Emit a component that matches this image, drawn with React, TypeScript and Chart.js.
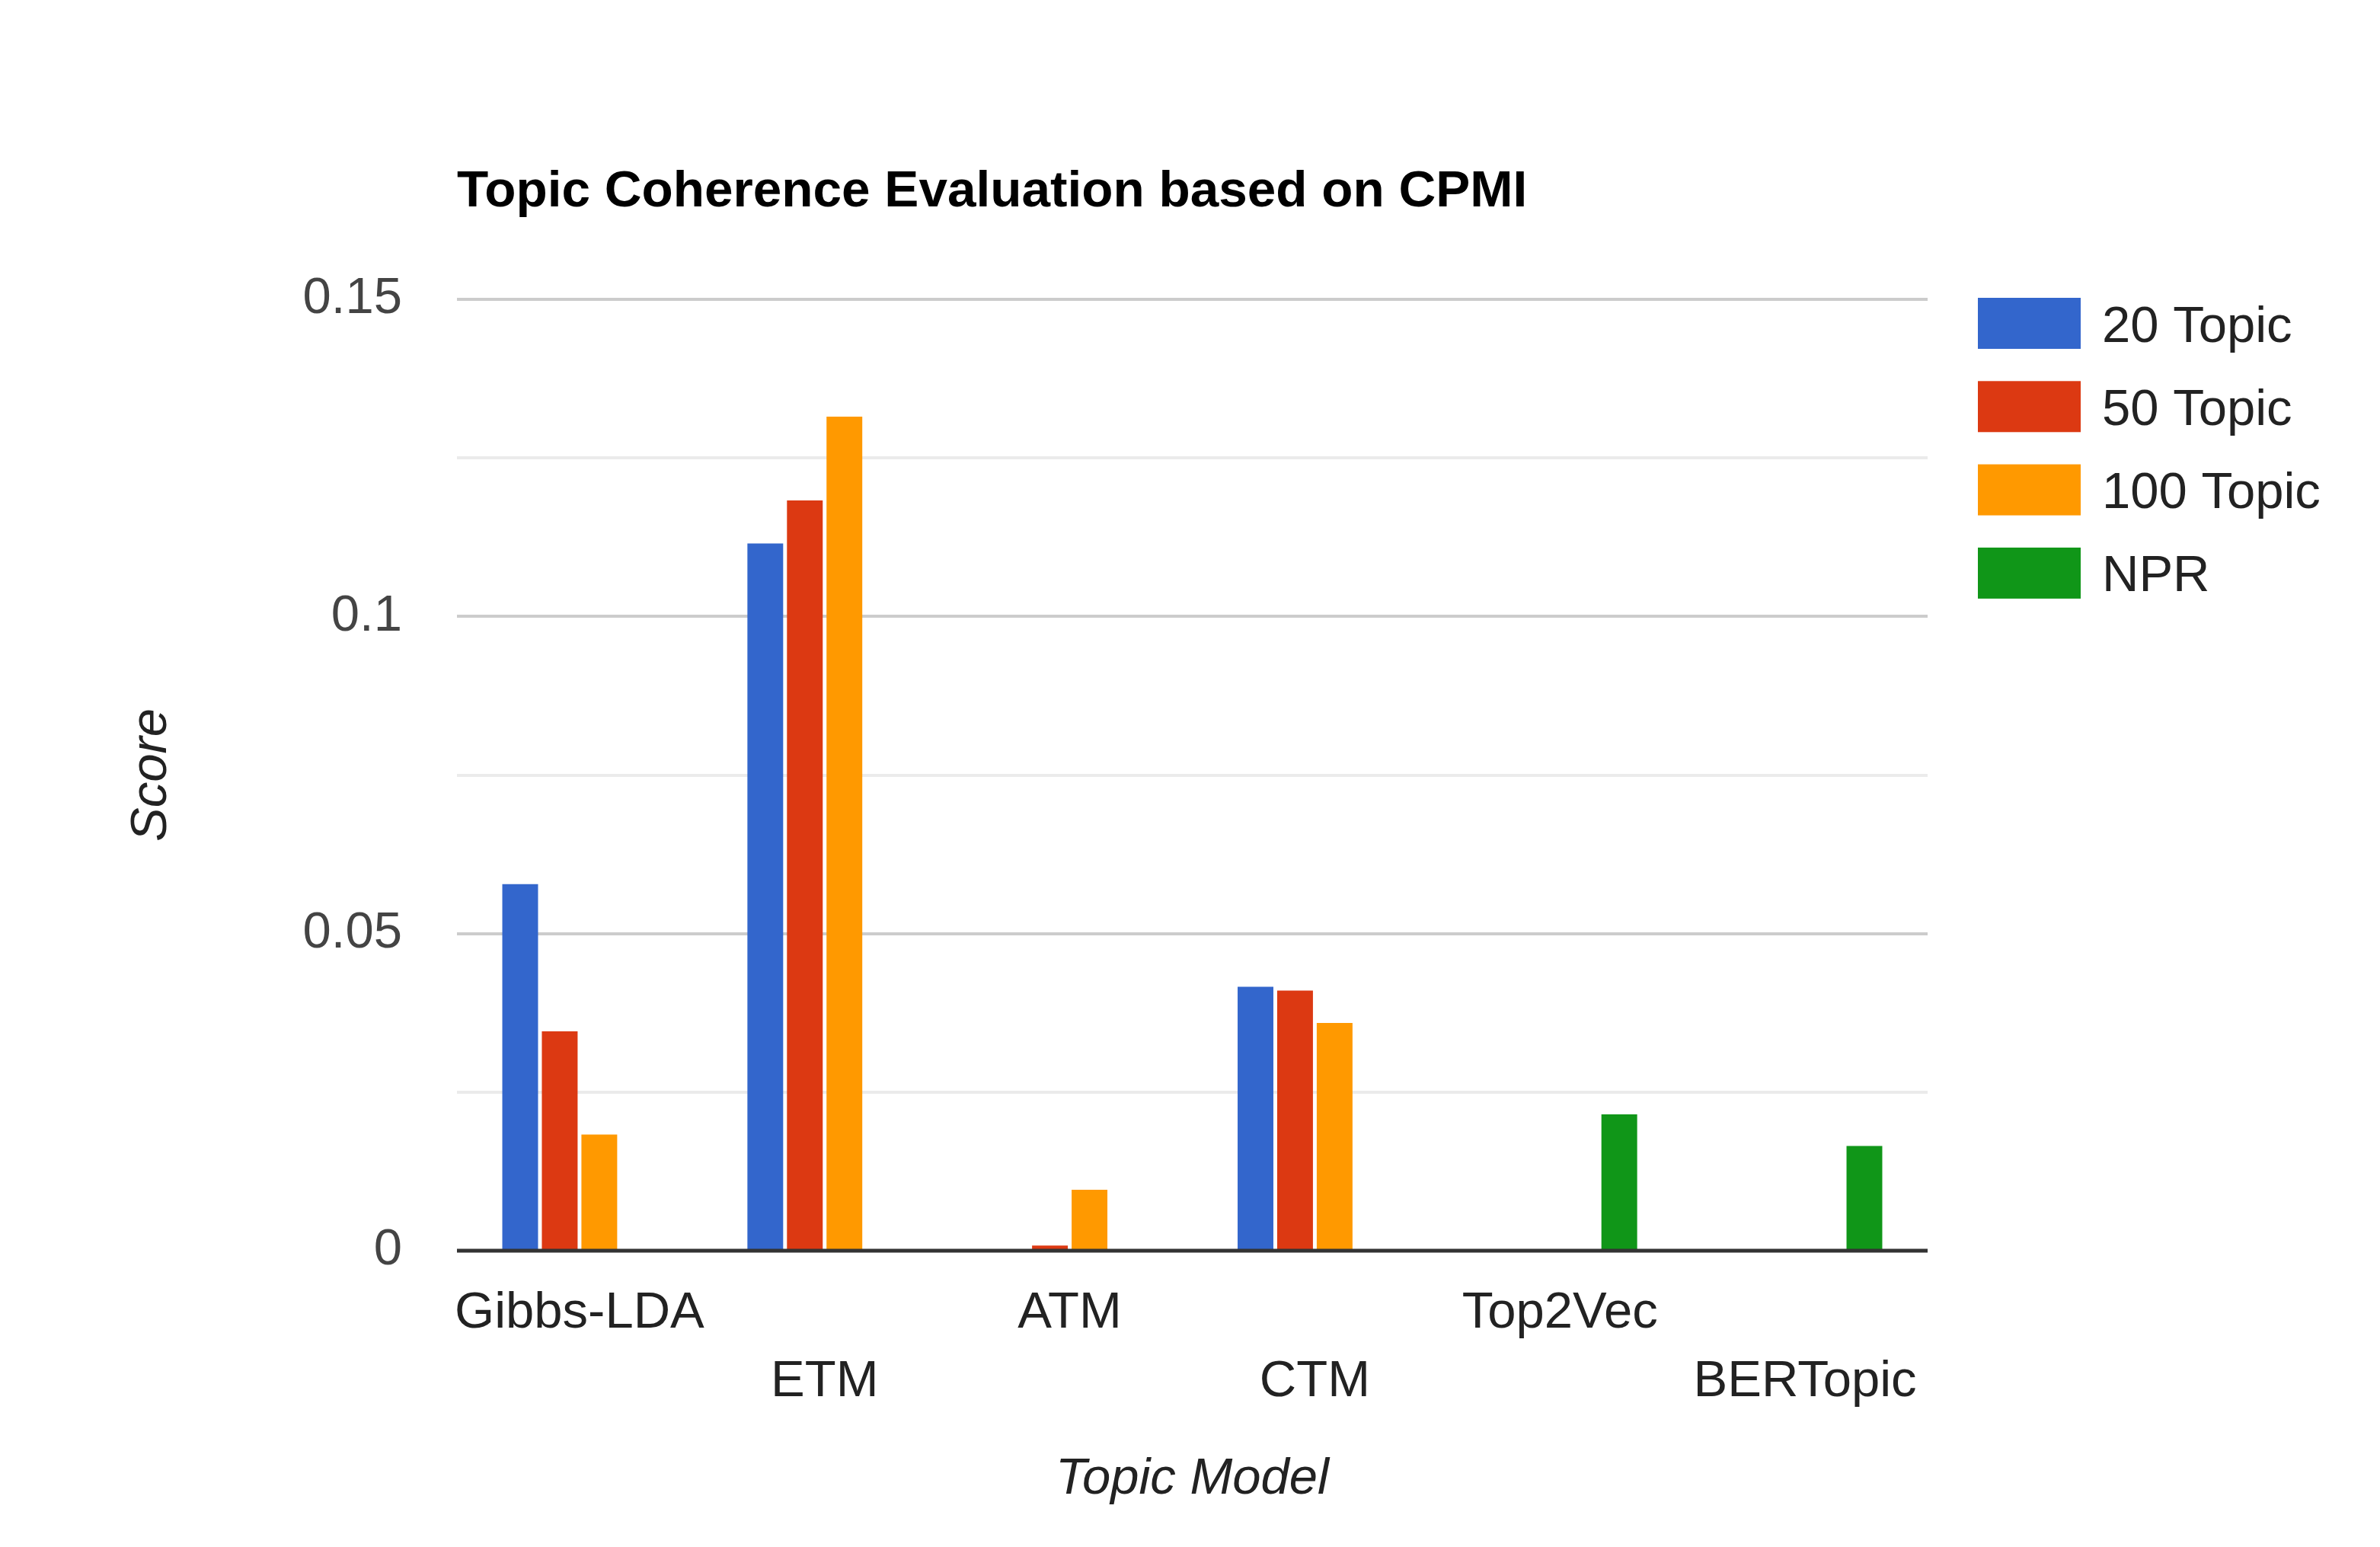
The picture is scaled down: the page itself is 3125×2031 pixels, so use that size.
import React, { useRef, useEffect } from 'react';
import { Chart, registerables } from 'chart.js';

Chart.register(...registerables);

const categories = ['Gibbs-LDA', 'ETM', 'ATM', 'CTM', 'Top2Vec', 'BERTopic'];
const topic20 = [0.0578, 0.1115, 0, 0.0416, null, null];
const topic50 = [0.0346, 0.1183, 0.0008, 0.041, null, null];
const topic100 = [0.0183, 0.1315, 0.0096, 0.0359, null, null];
const npr = [0, 0, 0, 0, 0.0215, 0.0165];
const seriesLabels = ['20 Topic', '50 Topic', '100 Topic', 'NPR'];
const seriesColors = ['#3366cc', '#dc3912', '#ff9900', '#109618'];
const yLabelTicks = [0, 0.05, 0.1, 0.15];

const chartTitle = 'Topic Coherence Evaluation based on CPMI';
const FONT = "'Liberation Sans', Arial, sans-serif";

// title, legend and the zero line are drawn by hand (Google Charts look)
const decorPlugin = {
    id: 'decor',
    afterDatasetsDraw(chart: any) {
        const { ctx, chartArea, scales } = chart;
        const y0 = scales.y.getPixelForValue(0);
        ctx.save();
        ctx.strokeStyle = '#333333';
        ctx.lineWidth = 5;
        ctx.beginPath();
        ctx.moveTo(chartArea.left, y0);
        ctx.lineTo(chartArea.right, y0);
        ctx.stroke();
        ctx.restore();
    },
    afterDraw(chart: any) {
        const { ctx, chartArea } = chart;
        ctx.save();
        ctx.textBaseline = 'alphabetic';
        ctx.textAlign = 'left';
        ctx.fillStyle = '#000000';
        ctx.font = `bold 67.5px ${FONT}`;
        ctx.fillText(chartTitle, chartArea.left, chartArea.top - 122);

        ctx.font = `67px ${FONT}`;
        const boxX = chartArea.right + 66;
        chart.data.datasets.forEach((ds: any, i: number) => {
            const top = chartArea.top - 2 + i * 109.3;
            ctx.fillStyle = ds.backgroundColor;
            ctx.fillRect(boxX, top, 135, 67);
            ctx.fillStyle = '#222222';
            ctx.fillText(ds.label, boxX + 163, top + 57.5);
        });
        ctx.restore();
    },
};

const isMajor = (v: number) => yLabelTicks.some((t) => Math.abs(t - v) < 1e-6);

const CoherenceChart = () => {
    const chartRef = useRef<HTMLCanvasElement | null>(null);

    useEffect(() => {
        if (!chartRef.current) return;
        const seriesData = [topic20, topic50, topic100, npr];

        const chart = new Chart(chartRef.current, {
            type: 'bar',
            data: {
                labels: categories,
                datasets: seriesData.map((d, i) => ({
                    label: seriesLabels[i],
                    data: d,
                    backgroundColor: seriesColors[i],
                    borderWidth: 0,
                    categoryPercentage: 0.6456,
                    barPercentage: 0.904,
                })),
            },
            options: {
                animation: false,
                responsive: true,
                maintainAspectRatio: false,
                layout: { padding: { top: 393, right: 594, left: 0, bottom: 0 } },
                plugins: {
                    legend: { display: false },
                    title: { display: false },
                    tooltip: { enabled: false },
                },
                scales: {
                    x: {
                        grid: { display: false },
                        border: { display: false },
                        afterFit: (s: any) => {
                            s.height = 389;
                        },
                        ticks: {
                            autoSkip: false,
                            maxRotation: 0,
                            minRotation: 0,
                            padding: 30,
                            color: '#222222',
                            font: { family: FONT, size: 67, lineHeight: 1.343 },
                            callback: (_v: any, i: number) => (i % 2 === 0 ? categories[i] : ['', categories[i]]),
                        },
                        title: {
                            display: true,
                            text: 'Topic Model',
                            color: '#222222',
                            font: { family: FONT, size: 67, style: 'italic', lineHeight: 1 },
                            padding: { top: 0, bottom: 55 },
                        },
                    },
                    y: {
                        min: 0,
                        max: 0.15,
                        border: { display: false },
                        afterFit: (s: any) => {
                            s.width = 600;
                        },
                        grid: {
                            drawTicks: false,
                            lineWidth: 4,
                            color: (c: any) => {
                                const v = c.tick ? c.tick.value : 1;
                                if (Math.abs(v) < 1e-9) return 'rgba(0,0,0,0)';
                                return isMajor(v) ? '#cccccc' : '#ebebeb';
                            },
                        },
                        ticks: {
                            stepSize: 0.025,
                            padding: 72,
                            color: '#444444',
                            font: { family: FONT, size: 67 },
                            callback: (v: any) => {
                                const t = yLabelTicks.find((x) => Math.abs(x - v) < 1e-6);
                                return t === undefined ? '' : String(t);
                            },
                        },
                        title: {
                            display: true,
                            text: 'Score',
                            color: '#222222',
                            font: { family: FONT, size: 67, style: 'italic', lineHeight: 1 },
                            padding: { top: 166, bottom: 0 },
                        },
                    },
                },
            },
            plugins: [decorPlugin],
        });
        return () => chart.destroy();
    }, []);

    return (
        <div style={{ position: 'fixed', left: 0, top: 0, width: '3125px', height: '2031px', backgroundColor: '#ffffff' }}>
            <canvas ref={chartRef} />
        </div>
    );
};

export default function App() {
    return <CoherenceChart />;
}
